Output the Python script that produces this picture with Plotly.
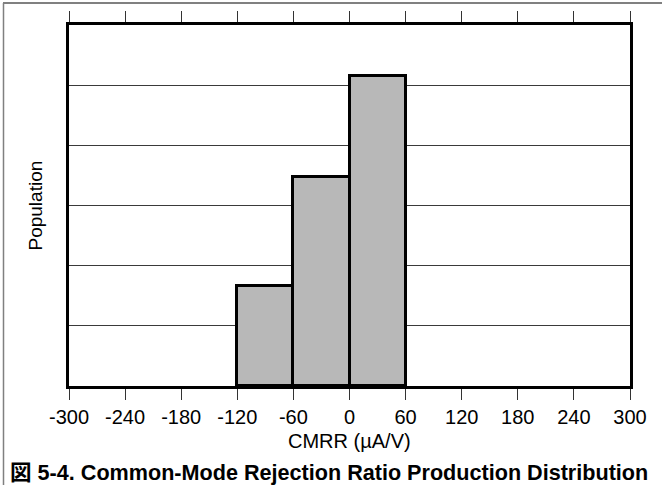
import plotly.graph_objects as go

bin_centers = [-90, -30, 30]
counts = [1.66, 3.48, 5.15]
bin_width = 60
tick_vals = [-300, -240, -180, -120, -60, 0, 60, 120, 180, 240, 300]
tick_text = [str(v) for v in tick_vals]

W, H = 662, 485
L, R, T, B = 69, 32, 25, 99
pw, ph = W - L - R, H - T - B

def px_x(p):
    return (p - L) / pw

def px_y(p):
    return (H - B - p) / ph

fig = go.Figure()
fig.add_trace(go.Bar(
    x=bin_centers, y=counts, width=[bin_width] * len(counts),
    marker=dict(color="#b8b8b8", line=dict(color="black", width=3)),
    showlegend=False, hoverinfo="skip",
))

font_fam = "Liberation Sans, Arial, sans-serif"
fig.update_layout(
    width=W, height=H,
    margin=dict(l=L, r=R, t=T, b=B),
    paper_bgcolor="white", plot_bgcolor="white",
    font=dict(family=font_fam, size=20, color="black"),
    bargap=0,
    xaxis=dict(
        range=[-300, 300], tickvals=tick_vals, ticktext=tick_text,
        showgrid=False, zeroline=False,
        showline=True, linecolor="black", linewidth=3, mirror="ticks",
        ticks="outside", ticklen=11, tickwidth=1, tickcolor="#333",
        tickfont=dict(size=20, family=font_fam, color="black"),
    ),
    yaxis=dict(
        range=[0, 6], dtick=1, showticklabels=False, ticks="",
        showgrid=True, gridcolor="#3a3a3a", gridwidth=1, zeroline=False,
        showline=True, linecolor="black", linewidth=3, mirror=True,
    ),
    annotations=[
        dict(text="CMRR (µA/V)", xref="paper", yref="paper",
             x=0.5, y=px_y(441), xanchor="center", yanchor="middle",
             showarrow=False, font=dict(size=20, family=font_fam)),
        dict(text="Population", xref="paper", yref="paper",
             x=px_x(35), y=0.5, xanchor="center", yanchor="middle",
             textangle=-90, showarrow=False, font=dict(size=19, family=font_fam)),
        dict(text="<b>図 5-4. Common-Mode Rejection Ratio Production Distribution</b>",
             xref="paper", yref="paper", x=px_x(8), y=px_y(473),
             xanchor="left", yanchor="middle", showarrow=False,
             font=dict(size=21.6, family="Liberation Sans, Arial, Noto Sans CJK JP, sans-serif")),
    ],
    shapes=[
        dict(type="line", xref="paper", yref="paper",
             x0=px_x(3), x1=px_x(W), y0=px_y(3), y1=px_y(3),
             line=dict(color="#808080", width=2)),
        dict(type="line", xref="paper", yref="paper",
             x0=px_x(3.5), x1=px_x(3.5), y0=px_y(3), y1=px_y(H),
             line=dict(color="#808080", width=1.5)),
    ],
)

fig.write_html("out.html", config={"displayModeBar": False},
               post_script="document.body.style.margin='0';document.body.style.overflow='hidden';")
